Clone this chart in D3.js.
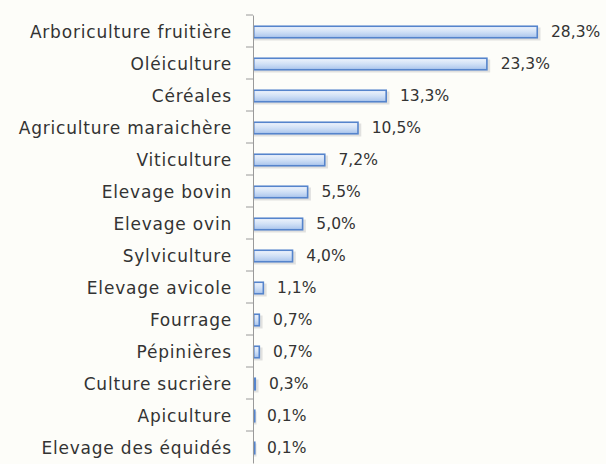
<!DOCTYPE html>
<html>
<head>
<meta charset="utf-8">
<script src="https://cdn.jsdelivr.net/npm/d3@7"></script>
<style>
  body { margin: 0; background: #fdfdf9; }
  text { font-family: "DejaVu Sans", sans-serif; fill: #333; }
</style>
</head>
<body>
<div id="chart"></div>
<script>
var categories = ["Arboriculture fruitière", "Oléiculture", "Céréales", "Agriculture maraichère",
  "Viticulture", "Elevage bovin", "Elevage ovin", "Sylviculture", "Elevage avicole",
  "Fourrage", "Pépinières", "Culture sucrière", "Apiculture", "Elevage des équidés"];
var values = [28.3, 23.3, 13.3, 10.5, 7.2, 5.5, 5.0, 4.0, 1.1, 0.7, 0.7, 0.3, 0.1, 0.1];

var margin = {top: 15, right: 10, bottom: 1, left: 253},
    width = 606 - margin.left - margin.right,
    height = 464 - margin.top - margin.bottom;

var svg = d3.select("#chart")
  .append("svg")
  .attr("width", 606)
  .attr("height", 464)
  .append("g")
  .attr("transform", "translate(" + margin.left + "," + margin.top + ")");

var defs = svg.append("defs");
var grad = defs.append("linearGradient")
  .attr("id", "barfill").attr("x1", 0).attr("y1", 0).attr("x2", 0).attr("y2", 1);
grad.append("stop").attr("offset", "0%").attr("stop-color", "#f0f5fc");
grad.append("stop").attr("offset", "50%").attr("stop-color", "#d0e0f6");
grad.append("stop").attr("offset", "100%").attr("stop-color", "#a9c4ec");

var x = d3.scaleLinear().domain([0, 28.3]).range([0, 285]);
var y = d3.scaleBand().domain(categories).range([0, 448]);

var barH = 13;
function barY(i) { return y(categories[i]) + y.bandwidth() / 2 - barH / 2 + 1; }

// shadow
svg.selectAll(".shadow")
  .data(values)
  .enter()
  .append("rect")
  .attr("class", "shadow")
  .attr("x", 1)
  .attr("y", function(d, i) { return barY(i) + 2; })
  .attr("width", function(d) { return x(d) + 1.5; })
  .attr("height", barH)
  .attr("fill", "#d4d4d4")
  .attr("opacity", 0.7);

svg.selectAll(".bar")
  .data(values)
  .enter()
  .append("rect")
  .attr("class", "bar")
  .attr("x", 0.75)
  .attr("y", function(d, i) { return barY(i) + 0.75; })
  .attr("width", function(d) { return Math.max(x(d) - 1.5, 1); })
  .attr("height", barH - 1.5)
  .attr("fill", "url(#barfill)")
  .attr("stroke", "#5584cc")
  .attr("stroke-width", 1.6);

// value labels
svg.selectAll(".val")
  .data(values)
  .enter()
  .append("text")
  .attr("class", "val")
  .attr("x", function(d) { return x(d) + 13; })
  .attr("y", function(d, i) { return y(categories[i]) + y.bandwidth() / 2 + 1; })
  .attr("dy", "0.35em")
  .style("font-size", "15.5px")
  .text(function(d) { return d.toFixed(1).replace(".", ",") + "%"; });

// axis
var axis = svg.append("g").call(d3.axisLeft(y).tickSizeOuter(0).tickFormat(""));
axis.select(".domain").attr("stroke", "#9a9a9a");
axis.selectAll(".tick line").remove();
axis.selectAll(".bound")
  .data(d3.range(categories.length))
  .enter()
  .append("line")
  .attr("x1", -7).attr("x2", 0)
  .attr("y1", function(i) { return y(categories[i]); })
  .attr("y2", function(i) { return y(categories[i]); })
  .attr("stroke", "#9a9a9a");

svg.selectAll(".cat")
  .data(categories)
  .enter()
  .append("text")
  .attr("class", "cat")
  .attr("x", -21)
  .attr("y", function(d) { return y(d) + y.bandwidth() / 2 + 1; })
  .attr("dy", "0.35em")
  .attr("text-anchor", "end")
  .style("font-size", "17px")
  .style("letter-spacing", "0.8px")
  .text(function(d) { return d; });
</script>
</body>
</html>
